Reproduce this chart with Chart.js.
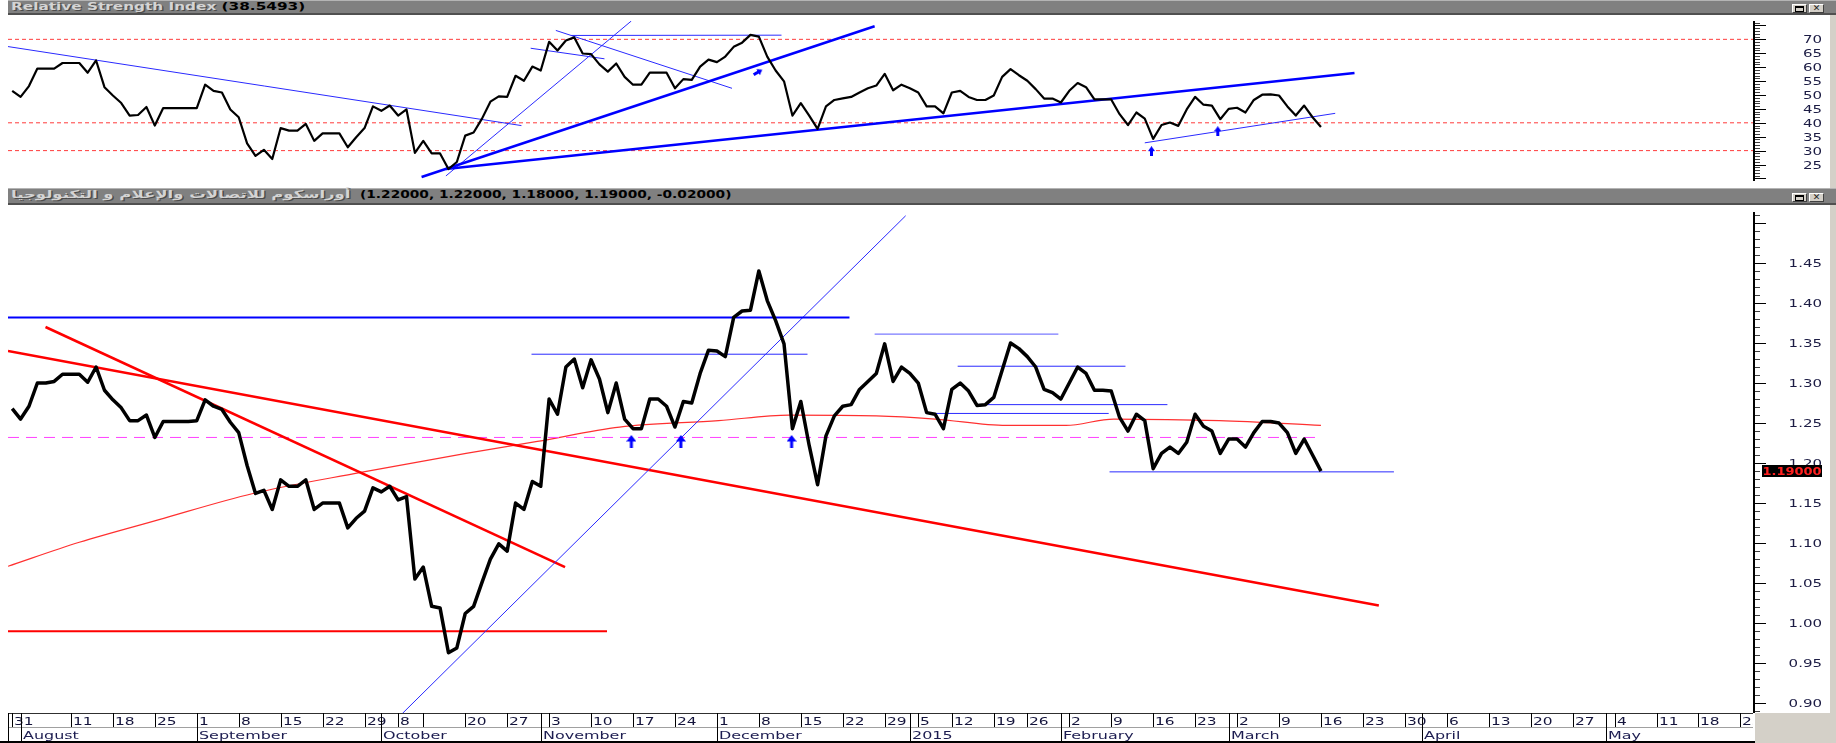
<!DOCTYPE html>
<html>
<head>
<meta charset="utf-8">
<title>Orascom Telecom - RSI</title>
<script src="https://cdn.jsdelivr.net/npm/chart.js@4.4.1/dist/chart.umd.min.js"></script>
<style>
  html, body { margin: 0; padding: 0; background: #fff; }
  body { position: relative; width: 1836px; height: 743px; overflow: hidden; font-family: "DejaVu Sans", sans-serif; }
  canvas { position: absolute; left: 0; }
  #rsiChart { top: 15px; }
  #priceChart { top: 205px; }
  .bar { position: absolute; left: 8px; width: 1828px; background: #808080; box-sizing: border-box;
         border-top: 1px solid #b4b4b4; border-bottom: 2px solid #505050; }
  .bar .caption { position: absolute; left: 3px; top: 0; font-size: 11px; font-weight: bold; line-height: 12px;
         white-space: nowrap; transform-origin: 0 0; }
  .light { color: #d4d4d4; text-shadow: 1px 1px 0 #4c4c4c; }
  .dark { color: #000; }
  .btn { position: absolute; top: 3px; width: 15px; height: 9px; box-sizing: border-box; background: #d4d0c8;
         border: 1px solid; border-color: #fff #404040 #404040 #fff; font-size: 9px; line-height: 7px;
         text-align: center; color: #222; }
  .btn .box { display: block; margin: 1px auto 0; width: 7px; height: 3px; border: 1px solid #000; border-top-width: 2px; }
  .edge { position: absolute; background: #d4d0c8; }
</style>
</head>
<body>

<div class="bar" style="top:0;height:15px">
  <div class="caption" style="transform:scaleX(1.39)"><span class="light">Relative Strength Index</span> <span class="dark" id="rsiCaption"></span></div>
  <div class="btn" style="left:1784px"><span class="box"></span></div>
  <div class="btn" style="left:1801px">✕</div>
</div>
<canvas id="rsiChart" width="1836" height="172"></canvas>

<div class="bar" style="top:188px;height:17px">
  <div class="caption light" dir="rtl" style="transform:scaleX(1.5)">أوراسكوم للاتصالات والإعلام و التكنولوجيا</div>
  <div class="caption dark" id="priceCaption" style="left:352px;transform:scaleX(1.25)"></div>
  <div class="btn" style="left:1784px;top:4px"><span class="box"></span></div>
  <div class="btn" style="left:1801px;top:4px">✕</div>
</div>
<canvas id="priceChart" width="1836" height="538"></canvas>

<div class="edge" style="left:1830px;top:15px;width:6px;height:173px"></div>
<div class="edge" style="left:1830px;top:205px;width:6px;height:538px"></div>
<div class="edge" style="left:1755px;top:713px;width:81px;height:30px"></div>

<script>
// Daily closes, one per trading day (Sun-Thu), 31 Jul 2014 .. 16 Mar 2015
const priceClose = [
  1.268, 1.255, 1.271, 1.300, 1.300, 1.302, 1.311, 1.311, 1.311, 1.301,
  1.320, 1.291, 1.279, 1.269, 1.253, 1.253, 1.260, 1.232, 1.252, 1.252,
  1.252, 1.252, 1.253, 1.279, 1.271, 1.267, 1.251, 1.238, 1.197, 1.162,
  1.166, 1.142, 1.179, 1.171, 1.171, 1.179, 1.142, 1.150, 1.150, 1.150,
  1.119, 1.131, 1.140, 1.169, 1.164, 1.171, 1.154, 1.158, 1.055, 1.070,
  1.021, 1.019, 0.963, 0.969, 1.012, 1.021, 1.051, 1.080, 1.099, 1.090,
  1.150, 1.142, 1.177, 1.171, 1.280, 1.261, 1.320, 1.330, 1.294, 1.329,
  1.305, 1.263, 1.300, 1.255, 1.243, 1.243, 1.280, 1.280, 1.271, 1.245,
  1.277, 1.275, 1.312, 1.341, 1.340, 1.333, 1.382, 1.390, 1.391, 1.440,
  1.403, 1.378, 1.349, 1.243, 1.277, 1.222, 1.173, 1.234, 1.259, 1.271,
  1.273, 1.292, 1.302, 1.312, 1.349, 1.302, 1.320, 1.312, 1.300, 1.263,
  1.261, 1.243, 1.292, 1.300, 1.290, 1.272, 1.273, 1.282, 1.316, 1.350,
  1.343, 1.333, 1.320, 1.292, 1.288, 1.280, 1.300, 1.320, 1.312, 1.291,
  1.291, 1.290, 1.257, 1.240, 1.261, 1.253, 1.193, 1.212, 1.220, 1.212,
  1.226, 1.261, 1.246, 1.240, 1.212, 1.230, 1.230, 1.220, 1.238, 1.252,
  1.252, 1.250, 1.238, 1.212, 1.230, 1.210, 1.190
];

const rsiValues = [
  51.5, 49.3, 53.2, 59.5, 59.5, 59.5, 61.5, 61.5, 61.5, 58.0,
  62.4, 52.8, 49.8, 47.1, 42.6, 42.8, 45.7, 39.0, 45.3, 45.3,
  45.3, 45.3, 45.3, 53.7, 51.5, 50.9, 44.8, 42.0, 32.6, 28.1,
  30.3, 27.0, 38.1, 37.2, 37.2, 39.6, 33.5, 36.2, 36.2, 36.2,
  31.2, 34.8, 38.1, 45.9, 44.3, 46.2, 42.6, 44.8, 29.2, 33.5,
  29.0, 29.0, 23.4, 25.9, 35.4, 36.5, 41.5, 47.6, 49.5, 49.3,
  56.9, 55.1, 60.2, 58.8, 69.1, 66.0, 69.6, 70.7, 64.9, 64.7,
  61.0, 58.4, 61.3, 56.5, 53.7, 53.7, 58.0, 58.0, 58.0, 52.4,
  55.7, 55.4, 60.2, 62.7, 61.8, 63.8, 67.3, 68.8, 71.6, 71.0,
  63.8, 58.8, 54.9, 42.6, 47.1, 42.6, 37.8, 45.9, 48.2, 48.8,
  49.3, 50.9, 52.4, 53.4, 57.6, 51.7, 53.7, 52.4, 50.9, 45.9,
  45.9, 43.4, 50.9, 51.5, 49.3, 48.2, 48.2, 49.8, 56.5, 59.3,
  57.1, 55.1, 52.1, 48.7, 48.7, 47.3, 51.5, 54.3, 52.8, 48.4,
  48.4, 48.4, 43.1, 39.2, 43.7, 41.5, 34.2, 39.2, 40.1, 38.9,
  44.8, 49.3, 46.5, 46.2, 41.3, 45.0, 45.4, 43.7, 48.2, 50.1,
  50.2, 49.8, 45.9, 42.6, 46.2, 42.0, 38.5
];

// moving average
const maDays   = [-0.5, 8, 17.4, 28.7, 41.4, 54.1, 62.6, 72.4, 84.2, 92.6, 103, 110, 118.5, 125.6, 131.3, 143.9, 156];
const maValues = [1.071, 1.101, 1.129, 1.162, 1.188, 1.212, 1.227, 1.245, 1.253, 1.260, 1.259, 1.255, 1.247, 1.247, 1.255, 1.253, 1.247];

// date axis (trading-day index of each Monday / first day of month)
const weekDays   = [0, 7, 12, 17, 22, 27, 32, 37, 42, 46, 49, 54, 59, 64, 69, 74, 79, 84, 89, 94, 99, 104, 108, 112, 117, 121,
                    126, 131, 136, 141, 146, 151, 156, 161, 166, 171, 176, 181, 186, 191, 196, 201, 206];
const weekLabels = ['31', '11', '18', '25', '1', '8', '15', '22', '29', '8', '', '20', '27', '3', '10', '17', '24', '1', '8', '15', '22', '29', '5', '12', '19', '26',
                    '2', '9', '16', '23', '2', '9', '16', '23', '30', '6', '13', '20', '27', '4', '11', '18', '25'];
const monthDays   = [1, 22, 44, 63, 84, 107, 125, 145, 168, 190];
const monthLabels = ['August', 'September', 'October', 'November', 'December', '2015', 'February', 'March', 'April', 'May'];

const rsiCaption = '38.5493';
const lastBar = [1.22, 1.22, 1.18, 1.19, -0.02];   // open, high, low, close, change
const rsiLevels = [70, 40, 30];

// drawn studies: [day1, value1, day2, value2]
const rsiThickLines = [[48.8, 20.5, 102.8, 74.7], [51.7, 23.4, 160.0, 57.9]];
const rsiThinLines = [
  [-0.5, 67.4, 60.7, 39.0], [51.7, 20.9, 73.8, 76.6], [66.6, 71.4, 91.7, 71.5],
  [64.8, 73.2, 85.8, 52.4], [61.8, 66.8, 70.6, 63.0], [135.0, 32.8, 157.7, 43.4]
];
const rsiUpArrows = [[135.8, 29.8], [143.7, 37.0]];
const rsiSlantArrows = [[88.9, 58.2]];

const priceBlueThick = [[-0.5, 1.382, 99.8, 1.382]];
const priceBlueThin = [
  [61.9, 1.336, 94.8, 1.336], [46.5, 0.887, 106.5, 1.509], [112.7, 1.321, 132.7, 1.321],
  [116.2, 1.273, 137.7, 1.273], [108.9, 1.262, 130.7, 1.262], [130.8, 1.189, 164.7, 1.189]
];
const priceBlueLight = [[102.8, 1.361, 124.7, 1.361]];
const priceRedThick = [[-0.5, 1.340, 162.9, 1.022], [3.97, 1.370, 65.9, 1.070]];
const priceRedLevel = [[-0.5, 0.990, 70.9, 0.990]];
const pivotLine = [[-0.5, 1.232, 155.5, 1.232]];
const priceUpArrows = [[73.8, 1.227], [79.7, 1.227], [92.9, 1.227]];

document.getElementById('rsiCaption').textContent = '(' + rsiCaption + ')';
document.getElementById('priceCaption').textContent = '(' + lastBar.map(v => v.toFixed(5)).join(', ') + ')';

// ---- helpers ----
function segmentSets(lines, style) {
  return lines.map(s => Object.assign({
    data: [{ x: s[0], y: s[1] }, { x: s[2], y: s[3] }],
    pointRadius: 0, fill: false, tension: 0
  }, style));
}

function arrowIcon(w, h) {
  const c = document.createElement('canvas');
  c.width = w; c.height = h;
  const g = c.getContext('2d');
  g.fillStyle = '#0000ff';
  g.beginPath();
  g.moveTo(w / 2, 0); g.lineTo(w, h * 0.5); g.lineTo(0, h * 0.5); g.closePath();
  g.fill();
  g.fillRect(w / 2 - 1.5, h * 0.45, 3, h * 0.55);
  return c;
}

function stretchText(ctx, text, x, y, sx, align) {
  ctx.save();
  ctx.translate(x, y);
  ctx.scale(sx, 1);
  ctx.textAlign = align || 'left';
  ctx.fillText(text, 0, 0);
  ctx.restore();
}

// right hand axis: line, minor/major ticks and stretched labels
const rightAxis = {
  id: 'rightAxis',
  afterDraw(chart, args, opts) {
    const { ctx, chartArea: a, scales: { y } } = chart;
    const x0 = a.right;
    ctx.save();
    ctx.fillStyle = '#000';
    ctx.fillRect(x0, a.top, 2, a.bottom - a.top);
    const k0 = Math.ceil(y.min / opts.minor - 1e-6);
    const k1 = Math.floor(y.max / opts.minor + 1e-6);
    for (let k = k0; k <= k1; k++) {
      const py = Math.round(y.getPixelForValue(k * opts.minor));
      const major = k % opts.every === 0;
      ctx.fillStyle = major ? '#000' : '#404040';
      ctx.fillRect(x0 + 2, py, major ? 11 : 5, 1);
    }
    ctx.fillStyle = '#1c1c44';
    ctx.font = '10px "DejaVu Sans"';
    ctx.textBaseline = 'middle';
    y.ticks.forEach(t => {
      const label = opts.format(t.value);
      if (label) stretchText(ctx, label, 1822, Math.round(y.getPixelForValue(t.value)) + 1, 1.5, 'right');
    });
    ctx.restore();
  }
};

// two-row date axis under the price panel
const dateAxis = {
  id: 'dateAxis',
  afterDraw(chart) {
    const { ctx, chartArea: a, scales: { x } } = chart;
    const top = a.bottom, mid = top + 14, bot = top + 28;
    const w = a.right - a.left;
    ctx.save();
    ctx.fillStyle = '#fff';
    ctx.fillRect(a.left, top, w, 30);
    ctx.fillStyle = '#303030';
    ctx.fillRect(a.left, top, w, 1);
    ctx.fillStyle = '#a0a0a0';
    ctx.fillRect(a.left, mid, w, 1);
    ctx.fillStyle = '#000';
    ctx.fillRect(0, bot, 1836, 2);
    ctx.fillRect(a.left, top, 1, bot - top);
    ctx.beginPath();
    ctx.rect(a.left, top, w, 30);
    ctx.clip();
    ctx.font = '11px "DejaVu Sans"';
    ctx.textBaseline = 'alphabetic';
    weekDays.forEach((d, i) => {
      const px = Math.round(x.getPixelForValue(d));
      ctx.fillStyle = '#000';
      ctx.fillRect(px, top, 1, mid - top);
      ctx.fillStyle = '#14143c';
      stretchText(ctx, weekLabels[i], px + 2, mid - 2, 1.4);
    });
    monthDays.forEach((d, i) => {
      const px = Math.round(x.getPixelForValue(d));
      ctx.fillStyle = '#000';
      ctx.fillRect(px, top, 1, bot - top);
      ctx.fillStyle = '#1c1c50';
      stretchText(ctx, monthLabels[i], px + 2, bot - 2, 1.45);
    });
    ctx.restore();
  }
};

// last price marker on the axis
const lastPrice = {
  id: 'lastPrice',
  afterDraw(chart) {
    const { ctx, scales: { y } } = chart;
    const close = lastBar[3];
    const py = Math.round(y.getPixelForValue(close));
    ctx.save();
    ctx.fillStyle = '#000';
    ctx.fillRect(1762, py - 6, 60, 12);
    ctx.fillStyle = '#ff2020';
    ctx.font = 'bold 10px "DejaVu Sans"';
    ctx.textBaseline = 'middle';
    stretchText(ctx, close.toFixed(5), 1792, py + 1, 1.3, 'center');
    ctx.restore();
  }
};

function baseOptions(yMin, yMax, step, bottomPad) {
  return {
    responsive: false,
    animation: false,
    devicePixelRatio: 1,
    layout: { padding: { left: 8, right: 0, top: 0, bottom: bottomPad } },
    plugins: { legend: { display: false }, tooltip: { enabled: false } },
    scales: {
      x: { type: 'linear', min: -0.5, max: 207.5, display: false },
      y: {
        type: 'linear', position: 'right', min: yMin, max: yMax,
        grid: { display: false }, border: { display: false },
        ticks: { display: false, stepSize: step, includeBounds: false, maxTicksLimit: 1000 },
        afterFit(s) { s.width = 83; s.paddingTop = 0; s.paddingBottom = 0; }
      }
    }
  };
}

const up = arrowIcon(7, 10);
const upBig = arrowIcon(10, 13);

// ---- RSI panel ----
const rsiOptions = baseOptions(19.08, 76.59, 5, 0);
rsiOptions.plugins.rightAxis = { minor: 1, every: 5, format: v => (v < 22 || v > 73) ? '' : String(Math.round(v)) };

new Chart(document.getElementById('rsiChart'), {
  type: 'line',
  data: {
    datasets: [
      { data: [...rsiUpArrows, ...rsiSlantArrows].map(p => ({ x: p[0], y: p[1] })), showLine: false,
        pointStyle: up, pointRadius: 5, rotation: ctx => ctx.dataIndex >= rsiUpArrows.length ? 60 : 0 },
      { data: rsiValues.map((v, i) => ({ x: i, y: v })), borderColor: '#000', borderWidth: 2.2,
        pointRadius: 0, tension: 0, borderJoinStyle: 'round' },
      ...segmentSets(rsiThickLines, { borderColor: '#0000ff', borderWidth: 2.5 }),
      ...segmentSets(rsiThinLines, { borderColor: '#2a2aff', borderWidth: 1 }),
      ...segmentSets(rsiLevels.map(v => [-0.5, v, 207.5, v]),
        { borderColor: '#ff3b3b', borderWidth: 1, borderDash: [4, 3] })
    ]
  },
  options: rsiOptions,
  plugins: [rightAxis]
});

// ---- price panel ----
const priceOptions = baseOptions(0.8877, 1.5137, 0.05, 30);
priceOptions.plugins.rightAxis = { minor: 0.01, every: 5, format: v => v > 1.47 ? '' : v.toFixed(2) };

new Chart(document.getElementById('priceChart'), {
  type: 'line',
  data: {
    datasets: [
      { data: priceUpArrows.map(p => ({ x: p[0], y: p[1] })), showLine: false, pointStyle: upBig, pointRadius: 6 },
      { data: priceClose.map((v, i) => ({ x: i, y: v })), borderColor: '#000', borderWidth: 3.5,
        pointRadius: 0, tension: 0, borderJoinStyle: 'round' },
      ...segmentSets(priceBlueThick, { borderColor: '#0000ff', borderWidth: 2 }),
      ...segmentSets(priceBlueThin, { borderColor: '#2a2aff', borderWidth: 1 }),
      ...segmentSets(priceBlueLight, { borderColor: '#7a7aff', borderWidth: 1.2 }),
      ...segmentSets(priceRedThick, { borderColor: '#ff0000', borderWidth: 2.5 }),
      ...segmentSets(priceRedLevel, { borderColor: '#ff0000', borderWidth: 2 }),
      ...segmentSets(pivotLine, { borderColor: '#ff40ff', borderWidth: 1, borderDash: [11, 7] }),
      { data: maDays.map((d, i) => ({ x: d, y: maValues[i] })), borderColor: '#ff3030', borderWidth: 1.2,
        pointRadius: 0, cubicInterpolationMode: 'monotone' }
    ]
  },
  options: priceOptions,
  plugins: [rightAxis, dateAxis, lastPrice]
});
</script>
</body>
</html>
